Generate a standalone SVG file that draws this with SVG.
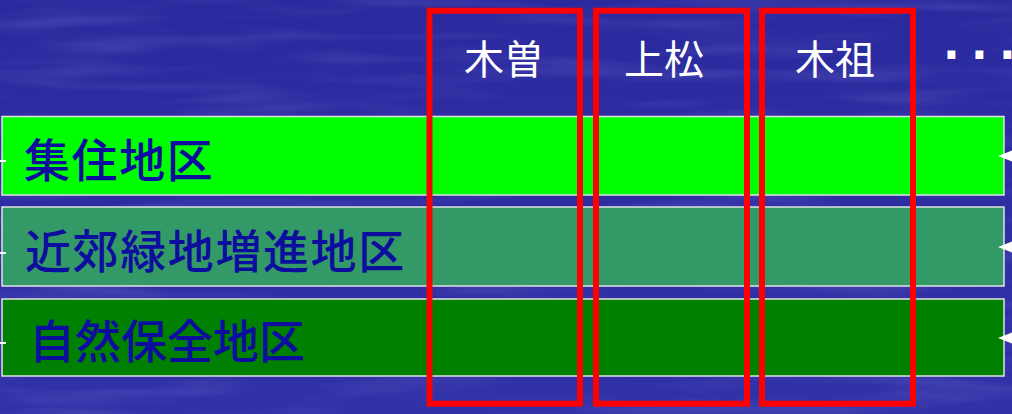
<svg xmlns="http://www.w3.org/2000/svg" width="1012" height="414" viewBox="0 0 1012 414">
  <defs>
    <linearGradient id="bgGrad" x1="0" y1="0" x2="0" y2="1">
      <stop offset="0" stop-color="#2a2a9e"/>
      <stop offset="1" stop-color="#3232a8"/>
    </linearGradient>
    <filter id="streaks" x="0" y="0" width="100%" height="100%">
      <feTurbulence type="fractalNoise" baseFrequency="0.006 0.06" numOctaves="2" seed="3" result="n"/>
      <feColorMatrix in="n" type="matrix" values="0 0 0 0 0.35  0 0 0 0 0.35  0 0 0 0 0.85  0 0 0 1.2 -0.55"/>
    </filter>
  </defs>
  <style>
    .bar { stroke: #e2e2e2; stroke-width: 1.5; }
    .zone { font-family: "Noto Sans CJK JP", "Noto Sans CJK SC", sans-serif; font-size: 46px; font-weight: 500; fill: #0e0e9e; letter-spacing: 1.6px; }
    .tight { letter-spacing: 0px; }
    .head { font-family: "Noto Sans CJK JP", "Noto Sans CJK SC", sans-serif; font-size: 40px; fill: #ffffff; text-anchor: middle; }
    .col { fill: none; stroke: #ff0000; stroke-width: 6; }
    .tick { stroke: #ffffff; stroke-width: 2; }
    .arrow { fill: #ffffff; }
    .dots { font-family: "DejaVu Sans", sans-serif; font-weight: bold; font-size: 44px; fill: #ffffff; }
  </style>

  <rect width="1012" height="414" fill="url(#bgGrad)"/>
  <rect width="1012" height="414" filter="url(#streaks)" opacity="0.35"/>

  <g id="zone-shuju">
    <rect class="bar" x="2" y="116.5" width="1002" height="78.5" fill="#00ff00"/>
    <text class="zone" x="24" y="177">集住地区</text>
  </g>
  <g id="zone-kinko">
    <rect class="bar" x="2" y="207" width="1002" height="79" fill="#339966"/>
    <text class="zone" x="25" y="268">近郊緑地増進地区</text>
  </g>
  <g id="zone-shizen">
    <rect class="bar" x="2" y="299" width="1002" height="77" fill="#008000"/>
    <text class="zone tight" x="29" y="358">自然保全地区</text>
  </g>

  <g id="col-kiso">
    <rect class="col" x="429.5" y="10.7" width="150.5" height="393"/>
    <text class="head" x="504" y="74">木曽</text>
  </g>
  <g id="col-agematsu">
    <rect class="col" x="596" y="10.7" width="151" height="393"/>
    <text class="head" x="664" y="74">上松</text>
  </g>
  <g id="col-kiso2">
    <rect class="col" x="762" y="10.7" width="151" height="393"/>
    <text class="head" x="835" y="74">木祖</text>
  </g>
  <g id="more">
    <text class="dots" x="943 971 999" y="70">···</text>
  </g>

  <g id="connectors">
    <line class="tick" x1="0" y1="161" x2="6" y2="161"/>
    <line class="tick" x1="0" y1="253" x2="6" y2="253"/>
    <line class="tick" x1="0" y1="343" x2="6" y2="343"/>
    <polygon class="arrow" points="998,156 1012,150.5 1012,161.5"/>
    <polygon class="arrow" points="998,247 1012,241.5 1012,252.5"/>
    <polygon class="arrow" points="998,338 1012,332.5 1012,343.5"/>
  </g>
</svg>
